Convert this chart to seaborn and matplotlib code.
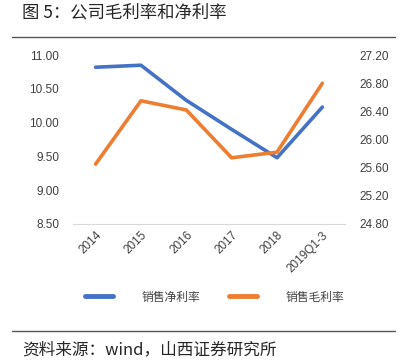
import seaborn as sns
import matplotlib.pyplot as plt
import matplotlib.lines as mlines
import pandas as pd

periods = ["2014", "2015", "2016", "2017", "2018", "2019Q1-3"]
net_margin = [10.82, 10.85, 10.33, 9.90, 9.48, 10.23]
gross_margin = [25.65, 26.55, 26.42, 25.74, 25.82, 26.80]
left_ticks = [8.50, 9.00, 9.50, 10.00, 10.50, 11.00]
right_ticks = [24.80, 25.20, 25.60, 26.00, 26.40, 26.80, 27.20]

sns.set_style("white")
plt.rcParams["font.family"] = ["Liberation Sans", "Noto Sans CJK SC", "DejaVu Sans"]

blue = "#4472C4"
orange = "#ED7D31"

df = pd.DataFrame({"period": periods, "net": net_margin, "gross": gross_margin})
df["x"] = range(len(periods))

fig = plt.figure(figsize=(4.05, 3.6), dpi=100)
ax = fig.add_axes([0.18, 0.378, 0.672, 0.469])
ax2 = ax.twinx()

sns.lineplot(data=df, x="x", y="net", ax=ax, color=blue, linewidth=2.6)
sns.lineplot(data=df, x="x", y="gross", ax=ax2, color=orange, linewidth=2.6)

ax.set_xlim(-0.5, len(periods) - 0.5)
ax.set_ylim(8.5, 11.0)
ax2.set_ylim(24.8, 27.2)
ax.set_yticks(left_ticks)
ax.set_yticklabels([f"{v:.2f}" for v in left_ticks])
ax2.set_yticks(right_ticks)
ax2.set_yticklabels([f"{v:.2f}" for v in right_ticks])
ax.set_xticks(df["x"])
ax.set_xticklabels(periods, rotation=45, ha="right", rotation_mode="anchor")

for a in (ax, ax2):
    for s in a.spines.values():
        s.set_visible(False)
    a.set_xlabel("")
    a.set_ylabel("")
    a.tick_params(length=0, labelsize=8.5, colors="#404040", pad=10)
ax.spines["bottom"].set_visible(True)
ax.spines["bottom"].set_color("#d9d9d9")
ax.tick_params(axis="x", pad=4)

handles = [mlines.Line2D([], [], color=blue, linewidth=3.5),
           mlines.Line2D([], [], color=orange, linewidth=3.5)]
fig.legend(handles, ["销售净利率", "销售毛利率"], loc="center", ncol=2,
           bbox_to_anchor=(0.53, 0.175), frameon=False, handlelength=2.4,
           handletextpad=2.4, columnspacing=2.4,
           prop={"family": ["Noto Sans CJK SC"], "size": 8.5}, labelcolor="#404040")

fig.text(0.055, 0.965, "图 5：公司毛利率和净利率", fontsize=12.5,
         family=["Noto Sans CJK SC", "DejaVu Sans"], va="center")
fig.add_artist(mlines.Line2D([0.03, 0.975], [0.897, 0.897], color="#555555", linewidth=1))
fig.add_artist(mlines.Line2D([0.03, 0.975], [0.08, 0.08], color="#555555", linewidth=1))
fig.text(0.055, 0.028, "资料来源：wind，山西证券研究所", fontsize=12,
         family=["Noto Sans CJK SC", "DejaVu Sans"], va="center")

fig.savefig("out.png", dpi=100)
